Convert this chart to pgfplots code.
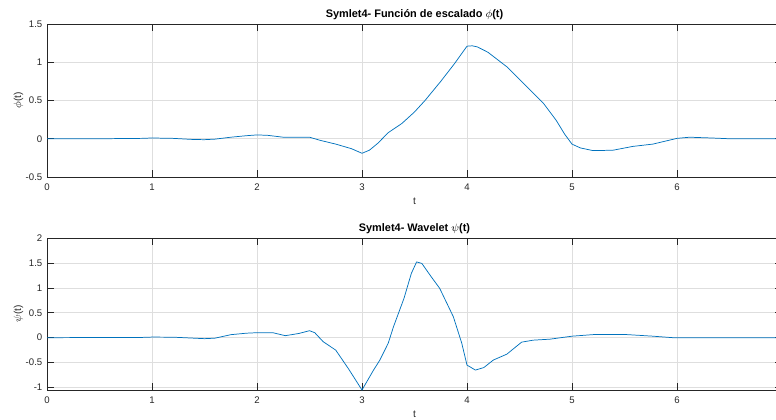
\documentclass[border=0pt]{standalone}
\usepackage{pgfplots}
\pgfplotsset{compat=1.18}
\usepackage{fontspec}
\setmainfont{Liberation Sans}
\definecolor{mblue}{rgb}{0,0.447,0.741}
\definecolor{maxis}{rgb}{0.15,0.15,0.15}
\pgfplotsset{mstyle/.style={
  scale only axis, width=551.25pt,
  xmin=0, xmax=7, xtick={0,1,2,3,4,5,6},
  tick align=inside, major tick length=5pt,
  grid=major, major grid style={black!13, line width=0.4pt},
  axis line style={maxis, line width=0.5pt},
  every tick/.style={maxis, line width=0.5pt},
  ticklabel style={font=\fontsize{7.2}{8}\selectfont, text=maxis},
  xticklabel style={yshift=-1.5pt},
  label style={font=\fontsize{7.6}{9}\selectfont, text=maxis},
  xlabel shift=-1.5pt,
  ylabel shift=-5pt,
  title style={font=\bfseries\fontsize{8.2}{9}\selectfont, text=black, yshift=-6pt},
  /pgf/number format/assume math mode=true,
  xlabel={t},
  clip=true,
}}
\begin{document}
\begin{tikzpicture}
\path[use as bounding box, clip] (0,0) rectangle (582pt,314.25pt);
\begin{axis}[mstyle, at={(35.25pt,181.5pt)}, anchor=south west, height=114.75pt,
  ymin=-0.5, ymax=1.5, ytick={-0.5,0,0.5,1,1.5},
  title={Symlet4- Función de escalado $\phi$(t)},
  ylabel={$\phi$(t)}]
\addplot[mblue, line width=0.55pt] coordinates {
(0,0) (0.5,0) (0.9,0.005) (1.0,0.01) (1.2,0.005) (1.4,-0.01) (1.5,-0.012) (1.6,-0.005)
(1.75,0.02) (1.9,0.04) (2.0,0.05) (2.1,0.045) (2.25,0.02) (2.5,0.02) (2.6,-0.02)
(2.75,-0.07) (2.9,-0.13) (3.0,-0.19) (3.07,-0.15) (3.15,-0.06) (3.25,0.08) (3.38,0.2)
(3.5,0.35) (3.6,0.5) (3.75,0.75) (3.88,0.98) (4.0,1.21) (4.05,1.215) (4.1,1.20)
(4.2,1.13) (4.38,0.94) (4.54,0.72) (4.73,0.46) (4.85,0.24) (4.93,0.06) (5.0,-0.07) (5.08,-0.12)
(5.2,-0.155) (5.39,-0.15) (5.58,-0.10) (5.77,-0.07) (6.0,0.005) (6.12,0.02) (6.33,0.01)
(6.5,0) (7,0)};
\end{axis}
\begin{axis}[mstyle, at={(35.25pt,21.75pt)}, anchor=south west, height=114pt,
  ymin=-1.05, ymax=2, ytick={-1,-0.5,0,0.5,1,1.5,2},
  title={Symlet4- Wavelet $\psi$(t)},
  ylabel={$\psi$(t)}]
\addplot[mblue, line width=0.55pt] coordinates {
(0,0) (0.9,0.005) (1.0,0.012) (1.2,0.01) (1.4,-0.01) (1.5,-0.02) (1.6,-0.01)
(1.75,0.06) (1.9,0.09) (2.0,0.10) (2.15,0.10) (2.27,0.04) (2.4,0.085) (2.5,0.14)
(2.55,0.10) (2.63,-0.08) (2.75,-0.25) (2.87,-0.62) (3.0,-1.05) (3.11,-0.65)
(3.17,-0.45) (3.25,-0.11) (3.30,0.22) (3.40,0.79) (3.47,1.29) (3.52,1.52) (3.57,1.49)
(3.66,1.22) (3.74,0.99) (3.87,0.42) (3.95,-0.11) (4.0,-0.55) (4.08,-0.65) (4.16,-0.60)
(4.25,-0.45) (4.38,-0.33) (4.52,-0.09) (4.63,-0.05) (4.79,-0.03) (5.0,0.03)
(5.23,0.066) (5.49,0.066) (5.77,0.03) (5.96,0.0) (7,0)};
\end{axis}
\end{tikzpicture}
\end{document}
